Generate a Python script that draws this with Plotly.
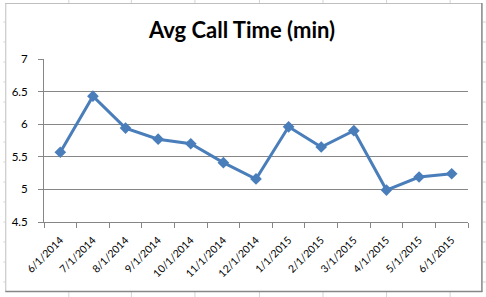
import plotly.graph_objects as go

dates = ["6/1/2014", "7/1/2014", "8/1/2014", "9/1/2014", "10/1/2014", "11/1/2014",
         "12/1/2014", "1/1/2015", "2/1/2015", "3/1/2015", "4/1/2015", "5/1/2015", "6/1/2015"]
avg_call_time = [5.57, 6.43, 5.94, 5.77, 5.70, 5.41, 5.16, 5.96, 5.65, 5.90, 4.99, 5.19, 5.24]
y_ticks = [4.5, 5, 5.5, 6, 6.5, 7]

W, H = 486, 297
L, R, T, B = 41, 468, 59, 222  # plot area in pixels


def px(x):
    return (x - L) / (R - L)


def py(y):
    return (B - y) / (B - T)


fig = go.Figure()
fig.add_trace(go.Scatter(
    x=dates, y=avg_call_time, mode="lines+markers",
    line=dict(color="#4A7EBB", width=3),
    marker=dict(symbol="diamond", size=9, color="#4A7EBB"),
    showlegend=False, cliponaxis=False,
))

shapes = []
# spreadsheet gridline stubs outside the chart
for xv in [66, 129, 193, 258, 322, 386, 450]:
    shapes.append(dict(type="line", xref="paper", yref="paper", x0=px(xv), x1=px(xv),
                       y0=py(0), y1=py(3), line=dict(color="#D4D4D4", width=1)))
    shapes.append(dict(type="line", xref="paper", yref="paper", x0=px(xv), x1=px(xv),
                       y0=py(292), y1=py(297), line=dict(color="#D4D4D4", width=1)))
for yv in range(22, 297, 20):
    shapes.append(dict(type="line", xref="paper", yref="paper", x0=px(0), x1=px(2),
                       y0=py(yv), y1=py(yv), line=dict(color="#D4D4D4", width=1)))
    shapes.append(dict(type="line", xref="paper", yref="paper", x0=px(483), x1=px(486),
                       y0=py(yv), y1=py(yv), line=dict(color="#D4D4D4", width=1)))
# chart border
shapes.append(dict(type="line", xref="paper", yref="paper", x0=px(2), x1=px(482),
                   y0=py(3.5), y1=py(3.5), line=dict(color="#BFBFBF", width=1)))
shapes.append(dict(type="line", xref="paper", yref="paper", x0=px(2.5), x1=px(2.5),
                   y0=py(3), y1=py(291), line=dict(color="#BFBFBF", width=1)))
shapes.append(dict(type="line", xref="paper", yref="paper", x0=px(482), x1=px(482),
                   y0=py(3), y1=py(292), line=dict(color="#868686", width=1.5)))
shapes.append(dict(type="line", xref="paper", yref="paper", x0=px(2), x1=px(482.5),
                   y0=py(291.5), y1=py(291.5), line=dict(color="#868686", width=1.5)))

fig.update_layout(
    width=W, height=H,
    margin=dict(l=L, r=W - R, t=T, b=H - B),
    paper_bgcolor="white", plot_bgcolor="white",
    font=dict(family="Lato", size=11, color="black"),
    title=dict(text="<b>Avg Call Time (min)</b>", x=242 / W, xref="container", xanchor="center",
               y=1 - 30 / H, yref="container", yanchor="middle",
               font=dict(family="Lato", size=22, color="black")),
    xaxis=dict(type="category", showgrid=False, showline=True, linecolor="#868686",
               ticks="outside", tickson="boundaries", ticklen=5, tickcolor="#868686",
               tickangle=-45, tickfont=dict(size=10.5), range=[-0.5, 12.5],
               ticklabelstandoff=7),
    yaxis=dict(range=[4.5, 7], tickvals=y_ticks, showgrid=True, gridcolor="#868686",
               gridwidth=1, showline=True, linecolor="#868686", ticks="outside",
               ticklen=5, tickcolor="#868686", zeroline=False, ticklabelstandoff=8,
               tickfont=dict(size=11.5)),
    shapes=shapes,
)

fig.write_html("out.html")
